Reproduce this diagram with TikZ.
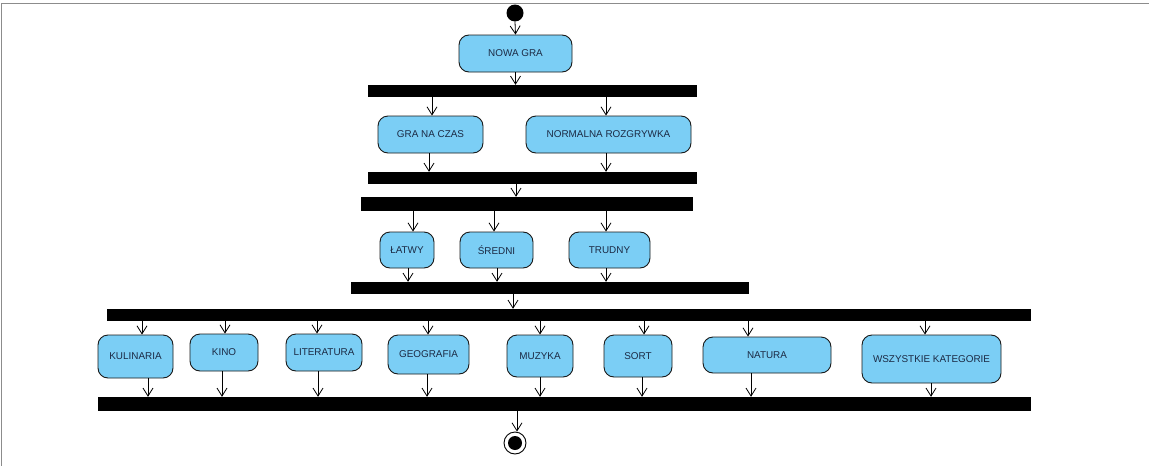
\documentclass[tikz,border=0pt]{standalone}
\usepackage{fontspec}
\setmainfont{Liberation Sans}
\usetikzlibrary{arrows.meta}
\definecolor{actfill}{HTML}{7BCEF5}
\definecolor{acttext}{HTML}{1C2B45}
\definecolor{frame}{HTML}{8C8C8C}
\begin{document}
\begin{tikzpicture}[x=1pt,y=-1pt,
  act/.style={draw=black!90,line width=0.9pt,fill=actfill,rounded corners=10pt,
    inner sep=0pt,text=acttext,font=\fontsize{9.9}{11}\selectfont},
  bar/.style={fill=black,draw=none,inner sep=0pt},
  arr/.style={line width=0.8pt,-{Straight Barb[length=8pt,width=10pt,line width=0.8pt]}}]
\useasboundingbox (0,0) rectangle (1149,466);
\fill[white] (0,0) rectangle (1149,466);
\draw[frame,line width=1.5pt] (1.5,466) -- (1.5,3.5) -- (1149,3.5);
% start / end
\node[circle,fill=black,inner sep=0pt,minimum size=17pt] (start) at (515,13) {};
\node[circle,draw=black,line width=0.9pt,fill=white,inner sep=0pt,minimum size=22pt] (endo) at (515,443) {};
\node[circle,fill=black,inner sep=0pt,minimum size=14pt] (endi) at (515,443) {};
% bars
\node[bar,minimum width=329pt,minimum height=12pt] (bar1) at (532.5,91) {};
\node[bar,minimum width=329pt,minimum height=12pt] (bar2) at (532.5,178) {};
\node[bar,minimum width=332pt,minimum height=14pt] (bar3) at (527,204) {};
\node[bar,minimum width=398pt,minimum height=12pt] (bar4) at (550,288) {};
\node[bar,minimum width=924pt,minimum height=12pt] (bar5) at (569,315) {};
\node[bar,minimum width=933pt,minimum height=14pt] (bar6) at (564.5,404) {};
% actions
\node[act,minimum width=113pt,minimum height=37pt] (nowa) at (515.5,53.5) {NOWA GRA};
\node[act,minimum width=105pt,minimum height=37pt] (czas) at (430.5,134.5) {GRA NA CZAS};
\node[act,minimum width=165pt,minimum height=37pt] (norm) at (608.5,134.5) {NORMALNA ROZGRYWKA};
\node[act,minimum width=54pt,minimum height=36pt] (latwy) at (407,250) {ŁATWY};
\node[act,minimum width=73pt,minimum height=36pt] (sredni) at (496.5,250) {ŚREDNI};
\node[act,minimum width=81pt,minimum height=36pt] (trudny) at (609.5,250) {TRUDNY};
\node[act,minimum width=75pt,minimum height=43pt] (kul) at (135.5,356.5) {KULINARIA};
\node[act,minimum width=68pt,minimum height=37pt] (kino) at (224,352.5) {KINO};
\node[act,minimum width=76pt,minimum height=37pt] (lit) at (324,352.5) {LITERATURA};
\node[act,minimum width=81pt,minimum height=39pt] (geo) at (428.5,354.5) {GEOGRAFIA};
\node[act,minimum width=66pt,minimum height=42pt] (muz) at (540,356) {MUZYKA};
\node[act,minimum width=68pt,minimum height=42pt] (sort) at (638,356) {SORT};
\node[act,minimum width=128pt,minimum height=36pt] (nat) at (767,355) {NATURA};
\node[act,minimum width=139pt,minimum height=48pt] (wsz) at (931.5,359) {WSZYSTKIE KATEGORIE};
% connectors
\draw[arr] (start.south) -- (nowa.north);
\draw[arr] (nowa.south) -- (bar1.north -| nowa.south);
\foreach \n/\a in {czas/1.5,norm/-2.5}{
  \path ([xshift=\a pt]\n.north) coordinate (i-\n);
  \draw[arr] (bar1.south -| i-\n) -- (i-\n);}
\foreach \n/\b in {czas/-1.5,norm/-2.5}{
  \path ([xshift=\b pt]\n.south) coordinate (o-\n);
  \draw[arr] (o-\n) -- (bar2.north -| o-\n);}
\path ([xshift=0.5pt]bar2.south -| nowa.south) coordinate (j23);
\draw[arr] (j23) -- (bar3.north -| j23);
\foreach \n/\a/\b in {latwy/6/1,sredni/-2.5/0.5,trudny/-3.5/-3.5}{
  \path ([xshift=\a pt]\n.north) coordinate (i-\n);
  \path ([xshift=\b pt]\n.south) coordinate (o-\n);
  \draw[arr] (bar3.south -| i-\n) -- (i-\n);
  \draw[arr] (o-\n) -- (bar4.north -| o-\n);}
\path ([xshift=-2.5pt]bar4.south -| nowa.south) coordinate (j45);
\draw[arr] (j45) -- (bar5.north -| j45);
\foreach \n/\a/\b in {kul/6.5/12.5,kino/1/-2,lit/-7/-6,geo/-0.5/-1.5,muz/0/0,sort/6/4,nat/-19/-16,wsz/-6.5/-0.5}{
  \path ([xshift=\a pt]\n.north) coordinate (i-\n);
  \path ([xshift=\b pt]\n.south) coordinate (o-\n);
  \draw[arr] (bar5.south -| i-\n) -- (i-\n);
  \draw[arr] (o-\n) -- (bar6.north -| o-\n);}
\path ([xshift=2pt]bar6.south -| endo.north) coordinate (j6e);
\draw[arr] (j6e) -- (endo.north -| j6e);
\end{tikzpicture}
\end{document}
